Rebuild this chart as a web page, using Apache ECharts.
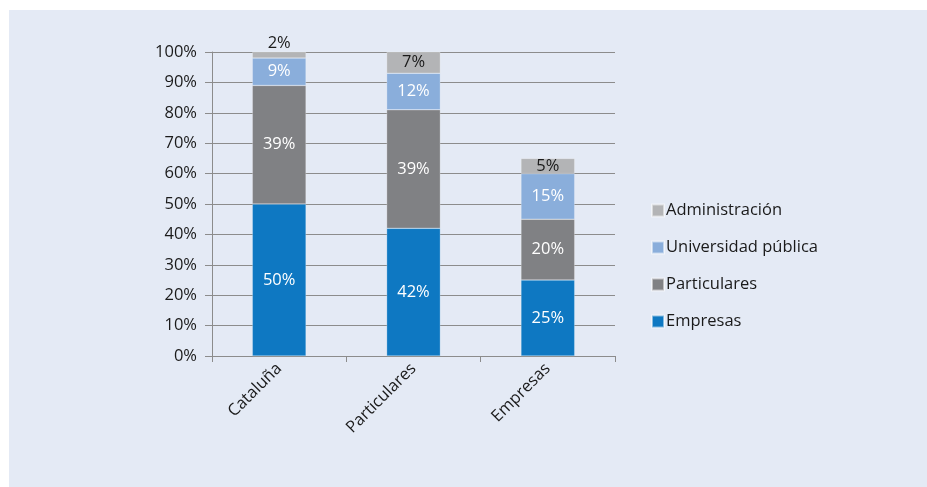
<!DOCTYPE html>
<html>
<head>
<meta charset="utf-8">
<script src="https://cdn.jsdelivr.net/npm/echarts@6/dist/echarts.min.js"></script>
<style>
  html, body { margin: 0; padding: 0; background: #ffffff; }
  #chart { width: 927px; height: 487px; }
</style>
</head>
<body>
<div id="chart"></div>
<script>
var categories = ['Cataluña', 'Particulares', 'Empresas'];
var empresas = [50, 42, 25];
var particulares = [39, 39, 20];
var universidad = [9, 12, 15];
var administracion = [2, 7, 5];
var yTicks = [0, 10, 20, 30, 40, 50, 60, 70, 80, 90, 100];

var myChart = echarts.init(document.getElementById('chart'));
var font = 'Open Sans';

function makeSeries(name, values, color, labelColor) {
  var data = [];
  for (var i = 0; i < values.length; ++i) {
    if (values[i] < 4) {
      data.push({ value: values[i], label: { position: 'top', distance: 0, color: labelColor } });
    } else {
      data.push(values[i]);
    }
  }
  return {
    name: name,
    type: 'bar',
    stack: 'total',
    barWidth: '40%',
    data: data,
    itemStyle: { color: color, borderColor: 'rgba(255,255,255,0.5)', borderWidth: 0.5 },
    label: {
      show: true,
      position: 'inside',
      formatter: '{c}%',
      color: labelColor,
      fontFamily: font,
      fontSize: 16.5
    }
  };
}

var option = {
  animation: false,
  graphic: [{
    type: 'rect',
    z: -10,
    shape: { x: 9, y: 10, width: 918, height: 477 },
    style: { fill: '#e4eaf5' }
  }],
  grid: { left: 212, right: 312, top: 52, bottom: 131 },
  legend: {
    orient: 'vertical',
    left: 646,
    top: 197,
    itemGap: 20,
    itemWidth: 12,
    itemHeight: 12,
    icon: 'rect',
    data: ['Administración', 'Universidad pública', 'Particulares', 'Empresas'],
    textStyle: { fontFamily: font, fontSize: 16.5, lineHeight: 17, color: '#1a1a1a', padding: [0, 0, 0, -3] }
  },
  xAxis: {
    type: 'category',
    data: categories,
    axisLine: { lineStyle: { color: '#8c8c8c', width: 1 } },
    axisTick: { show: true, length: 6, lineStyle: { color: '#8c8c8c' } },
    axisLabel: {
      rotate: 45,
      margin: 10,
      fontFamily: font,
      fontSize: 16.5,
      color: '#1a1a1a'
    }
  },
  yAxis: {
    type: 'value',
    min: 0,
    max: 100,
    interval: 10,
    axisLine: { show: true, lineStyle: { color: '#8c8c8c' } },
    axisTick: { show: true, length: 7, lineStyle: { color: '#8c8c8c' } },
    splitLine: { lineStyle: { color: '#8c8c8c', width: 1 } },
    axisLabel: {
      margin: 15,
      fontFamily: font,
      fontSize: 16.5,
      color: '#1a1a1a',
      formatter: function (v) {
        return yTicks.indexOf(v) >= 0 ? v + '%' : '';
      }
    }
  },
  series: [
    makeSeries('Empresas', empresas, '#0e78c2', '#ffffff'),
    makeSeries('Particulares', particulares, '#808184', '#ffffff'),
    makeSeries('Universidad pública', universidad, '#8aaedb', '#ffffff'),
    makeSeries('Administración', administracion, '#b3b4b6', '#1a1a1a')
  ]
};

myChart.setOption(option);
</script>
</body>
</html>
